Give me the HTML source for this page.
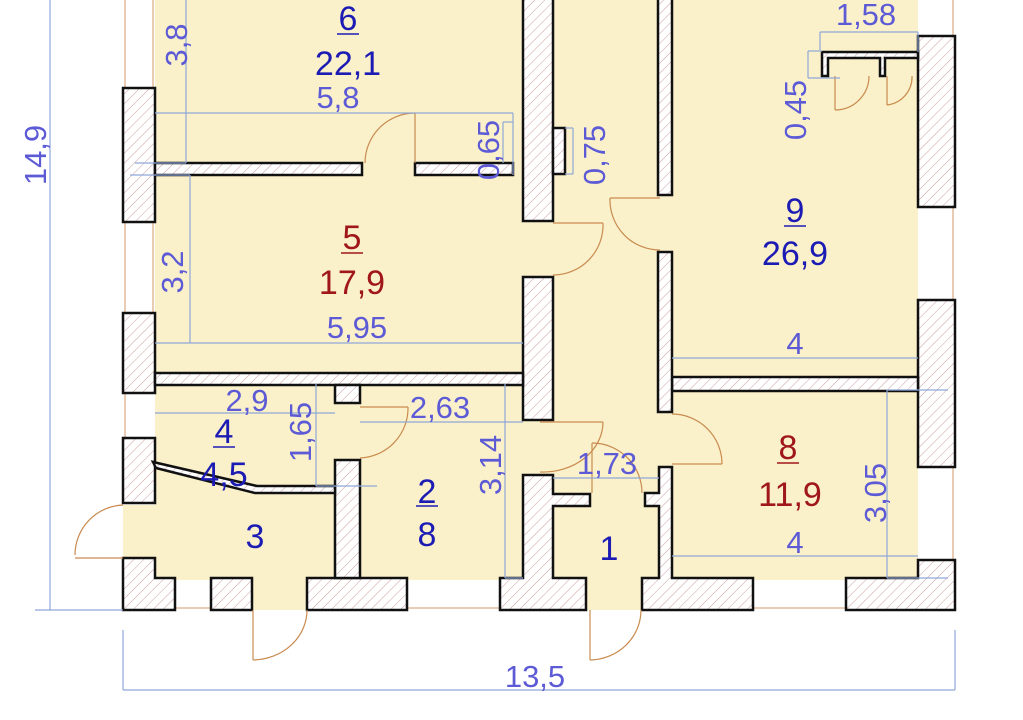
<!DOCTYPE html>
<html><head><meta charset="utf-8"><style>
html,body{margin:0;padding:0;background:#fff;}
svg{display:block;}
text{font-family:"Liberation Sans",sans-serif;}
.d{fill:#5d5ad6;font-size:31px;}
.n{fill:#1c1cb4;font-size:34px;}
.r{fill:#a0171a;font-size:34px;}
</style></head><body>
<svg width="1023" height="720" viewBox="0 0 1023 720" xmlns="http://www.w3.org/2000/svg">
<defs>
<pattern id="h" width="7" height="7" patternUnits="userSpaceOnUse" patternTransform="rotate(45)">
<rect width="7" height="7" fill="#fff"/><line x1="0" y1="0" x2="0" y2="7" stroke="#c9a0a0" stroke-width="1"/>
</pattern>
</defs>
<rect x="155" y="0" width="763" height="580" fill="#faf0ca"/>
<rect x="123" y="505" width="40" height="55" fill="#faf0ca"/>
<rect x="252" y="575" width="55" height="35" fill="#faf0ca"/>
<rect x="586" y="575" width="56" height="35" fill="#faf0ca"/>
<g stroke="#d49a6a" stroke-width="1" fill="none">
<line x1="125" y1="0" x2="125" y2="88"/><line x1="153" y1="0" x2="153" y2="88"/>
<line x1="125" y1="222" x2="125" y2="313"/><line x1="153" y1="222" x2="153" y2="313"/>
<line x1="125" y1="393" x2="125" y2="438"/>
<line x1="175" y1="608" x2="211" y2="608"/><line x1="407" y1="608" x2="500" y2="608"/>
<line x1="753" y1="608" x2="846" y2="608"/>
<line x1="953" y1="0" x2="953" y2="36"/><line x1="953" y1="207" x2="953" y2="300"/>
<line x1="953" y1="467" x2="953" y2="560"/>
</g>
<g fill="url(#h)" stroke="#111" stroke-width="2.5">
<rect x="123" y="88" width="32" height="134"/>
<rect x="123" y="313" width="32" height="80"/>
<rect x="123" y="438" width="32" height="65"/>
<polygon points="123,558 155,558 155,578 175,578 175,610 123,610"/>
<rect x="211" y="578" width="41" height="32"/>
<rect x="307" y="578" width="100" height="32"/>
<polygon points="523,475 553,475 553,494 590,494 590,506 553,506 553,578 586,578 586,610 500,610 500,578 523,578"/>
<polygon points="659,467 672,467 672,578 753,578 753,610 642,610 642,578 659,578 659,506 645,506 645,493 659,493"/>
<polygon points="846,578 918,578 918,560 955,560 955,610 846,610"/>
<rect x="918" y="36" width="37" height="171"/>
<rect x="918" y="300" width="37" height="167"/>
<rect x="672" y="377" width="246" height="14"/>
<rect x="658" y="-5" width="14" height="200"/>
<rect x="658" y="252" width="14" height="160"/>
<rect x="523" y="-5" width="30" height="226"/>
<rect x="553" y="128" width="12" height="46"/>
<rect x="523" y="277" width="30" height="143"/>
<rect x="155" y="373" width="368" height="12"/>
<rect x="155" y="163" width="207" height="12"/>
<rect x="415" y="163" width="98" height="12"/>
<rect x="335" y="385" width="25" height="18"/>
<rect x="335" y="460" width="25" height="118"/>
<polygon points="153,462 156,468 255,493 335,493 335,486 257,486"/>
<polygon points="822,52 918,52 918,58 885,58 885,76 880,76 880,58 828,58 828,76 822,76"/>
</g>
<g stroke="#c98b4f" stroke-width="1.2" fill="none">
<line x1="75" y1="558" x2="123" y2="558"/><path d="M123,505 A50,50 0 0 0 75,555"/>
<line x1="253" y1="610" x2="253" y2="660"/><path d="M253,660 A55,50 0 0 0 307,610"/>
<line x1="590" y1="610" x2="590" y2="660"/><path d="M590,660 A52,50 0 0 0 641,610"/>
<line x1="415" y1="113" x2="415" y2="163"/><path d="M415,113 A50,50 0 0 0 365,163"/>
<line x1="553" y1="223" x2="603" y2="223"/><path d="M603,223 A50,50 0 0 1 553,275"/>
<line x1="610" y1="198" x2="660" y2="198"/><path d="M610,198 A50,50 0 0 0 660,250"/>
<line x1="672" y1="464" x2="722" y2="464"/><path d="M722,464 A50,50 0 0 0 672,414"/>
<line x1="360" y1="407" x2="408" y2="407"/><path d="M408,407 A50,50 0 0 1 360,458"/>
<line x1="592" y1="443" x2="592" y2="493"/><path d="M592,443 A50,50 0 0 1 642,493"/>
<line x1="540" y1="422" x2="603" y2="422"/><path d="M603,422 A60,50 0 0 1 540,472"/>
<line x1="835" y1="76" x2="835" y2="110"/><path d="M835,110 A34,34 0 0 0 869,76"/>
<line x1="887" y1="76" x2="887" y2="105"/><path d="M887,105 A28,28 0 0 0 912,76"/>
</g>
<g stroke="#8fa8d8" stroke-width="1.2" fill="none">
<line x1="50" y1="0" x2="50" y2="610"/><line x1="35" y1="610" x2="123" y2="610"/>
<line x1="123" y1="690" x2="955" y2="690"/><line x1="123" y1="630" x2="123" y2="690"/><line x1="955" y1="630" x2="955" y2="690"/>
<line x1="155" y1="113" x2="513" y2="113"/>
<line x1="186" y1="0" x2="186" y2="163"/><line x1="135" y1="163" x2="186" y2="163"/>
<line x1="190" y1="175" x2="190" y2="343"/><line x1="130" y1="175" x2="190" y2="175"/>
<line x1="155" y1="343" x2="523" y2="343"/>
<line x1="503" y1="122" x2="513" y2="122"/><line x1="503" y1="122" x2="503" y2="163"/><line x1="513" y1="113" x2="513" y2="175"/>
<line x1="565" y1="128" x2="573" y2="128"/><line x1="573" y1="128" x2="573" y2="174"/><line x1="565" y1="174" x2="573" y2="174"/>
<line x1="820" y1="32" x2="918" y2="32"/><line x1="820" y1="32" x2="820" y2="50"/><line x1="918" y1="32" x2="918" y2="52"/>
<line x1="808" y1="51" x2="822" y2="51"/><line x1="808" y1="51" x2="808" y2="78"/><line x1="808" y1="78" x2="840" y2="78"/>
<line x1="672" y1="358" x2="918" y2="358"/>
<line x1="155" y1="413" x2="335" y2="413"/>
<line x1="316" y1="384" x2="316" y2="486"/><line x1="316" y1="486" x2="377" y2="486"/>
<line x1="360" y1="422" x2="523" y2="422"/>
<line x1="505" y1="384" x2="505" y2="578"/><line x1="505" y1="578" x2="523" y2="578"/>
<line x1="553" y1="478" x2="659" y2="478"/>
<line x1="887" y1="390" x2="887" y2="578"/><line x1="887" y1="390" x2="948" y2="390"/><line x1="887" y1="578" x2="948" y2="578"/>
<line x1="672" y1="556" x2="918" y2="556"/>
</g>
<g text-anchor="middle">
<text class="n" x="348" y="30">6</text><line x1="337" y1="34" x2="359" y2="34" stroke="#1c1cb4" stroke-width="1.5"/>
<text class="n" x="348" y="75">22,1</text>
<text class="d" x="338" y="108">5,8</text>
<text class="r" x="352" y="249">5</text><line x1="341" y1="253" x2="363" y2="253" stroke="#a0171a" stroke-width="1.5"/>
<text class="r" x="352" y="294">17,9</text>
<text class="d" x="357" y="338">5,95</text>
<text class="d" x="866" y="25">1,58</text>
<text class="n" x="795" y="222">9</text><line x1="784" y1="226" x2="806" y2="226" stroke="#1c1cb4" stroke-width="1.5"/>
<text class="n" x="795" y="265">26,9</text>
<text class="d" x="795" y="354">4</text>
<text class="d" x="247" y="411">2,9</text>
<text class="d" x="440" y="418">2,63</text>
<text class="n" x="224" y="443">4</text><line x1="213" y1="447" x2="235" y2="447" stroke="#1c1cb4" stroke-width="1.5"/>
<text class="n" x="224" y="486">4,5</text>
<text class="n" x="427" y="503">2</text><line x1="416" y1="506" x2="438" y2="506" stroke="#1c1cb4" stroke-width="1.5"/>
<text class="n" x="427" y="546">8</text>
<text class="n" x="255" y="548">3</text>
<text class="n" x="609" y="560">1</text>
<text class="d" x="607" y="474">1,73</text>
<text class="r" x="788" y="459">8</text><line x1="777" y1="463" x2="799" y2="463" stroke="#a0171a" stroke-width="1.5"/>
<text class="r" x="790" y="506">11,9</text>
<text class="d" x="795" y="553">4</text>
<text class="d" x="535" y="687">13,5</text>
<text class="d" transform="translate(46,155) rotate(-90)">14,9</text>
<text class="d" transform="translate(187,45) rotate(-90)">3,8</text>
<text class="d" transform="translate(183,272) rotate(-90)">3,2</text>
<text class="d" transform="translate(499,150) rotate(-90)">0,65</text>
<text class="d" transform="translate(605,155) rotate(-90)">0,75</text>
<text class="d" transform="translate(806,110) rotate(-90)">0,45</text>
<text class="d" transform="translate(311,432) rotate(-90)">1,65</text>
<text class="d" transform="translate(501,465) rotate(-90)">3,14</text>
<text class="d" transform="translate(886,493) rotate(-90)">3,05</text>
</g>
</svg>
</body></html>
